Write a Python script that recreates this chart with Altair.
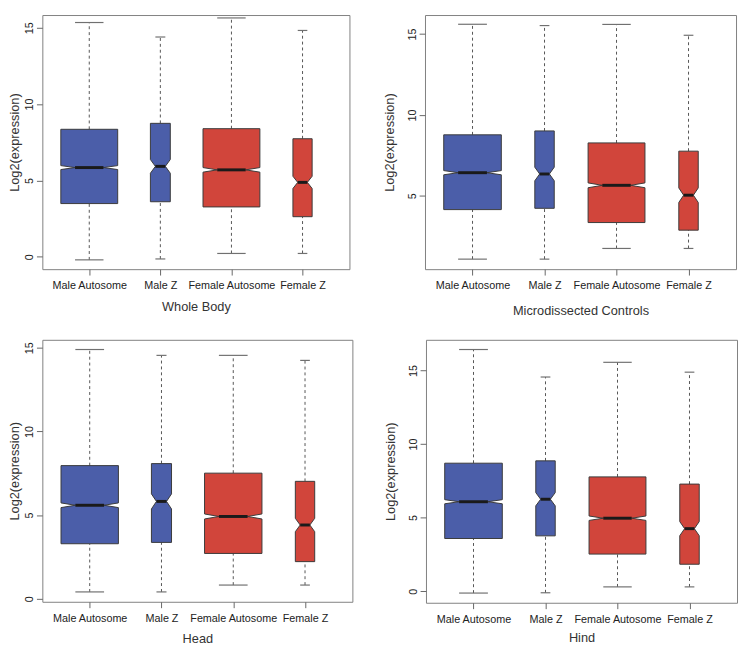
import json
import altair as alt
import pandas as pd

CATEGORIES = ["Male Autosome", "Male Z", "Female Autosome", "Female Z"]
TISSUES = ["Whole Body", "Microdissected Controls", "Head", "Hind"]
BOX_COLORS = ["#4b5ea9", "#4b5ea9", "#d1453b", "#d1453b"]
Y_TICKS = [0, 5, 10, 15]

# Box statistics (order = CATEGORIES)
WB_MAX = [15.35, 14.40, 15.65, 14.83]
WB_Q3 = [8.35, 8.74, 8.39, 7.73]
WB_MED = [5.84, 5.92, 5.69, 4.87]
WB_Q1 = [3.48, 3.60, 3.26, 2.62]
WB_MIN = [-0.21, -0.15, 0.21, 0.21]
WB_NOTCH = [0.13, 0.45, 0.15, 0.40]
WB_WIDTH = [0.80, 0.28, 0.80, 0.27]

MC_MAX = [15.60, 15.52, 15.59, 14.92]
MC_Q3 = [8.77, 9.01, 8.27, 7.76]
MC_MED = [6.43, 6.35, 5.65, 5.04]
MC_Q1 = [4.15, 4.23, 3.35, 2.88]
MC_MIN = [1.09, 1.09, 1.75, 1.75]
MC_NOTCH = [0.13, 0.42, 0.15, 0.45]
MC_WIDTH = [0.80, 0.27, 0.79, 0.27]

HE_MAX = [14.90, 14.55, 14.55, 14.25]
HE_Q3 = [7.96, 8.08, 7.51, 7.02]
HE_MED = [5.59, 5.82, 4.92, 4.41]
HE_Q1 = [3.29, 3.37, 2.71, 2.22]
HE_MIN = [0.41, 0.41, 0.82, 0.82]
HE_NOTCH = [0.14, 0.45, 0.15, 0.40]
HE_WIDTH = [0.80, 0.28, 0.80, 0.27]

HI_MAX = [16.43, 14.56, 15.56, 14.89]
HI_Q3 = [8.70, 8.86, 7.77, 7.28]
HI_MED = [6.08, 6.25, 4.96, 4.25]
HI_Q1 = [3.58, 3.76, 2.52, 1.83]
HI_MIN = [-0.13, -0.11, 0.29, 0.29]
HI_NOTCH = [0.14, 0.45, 0.15, 0.48]
HI_WIDTH = [0.80, 0.27, 0.79, 0.27]

STATS = [
    (WB_MAX, WB_Q3, WB_MED, WB_Q1, WB_MIN, WB_NOTCH, WB_WIDTH),
    (MC_MAX, MC_Q3, MC_MED, MC_Q1, MC_MIN, MC_NOTCH, MC_WIDTH),
    (HE_MAX, HE_Q3, HE_MED, HE_Q1, HE_MIN, HE_NOTCH, HE_WIDTH),
    (HI_MAX, HI_Q3, HI_MED, HI_Q1, HI_MIN, HI_NOTCH, HI_WIDTH),
]

# display settings per panel
Y_DOMAINS = [[-0.82, 15.84], [0.47, 16.17], [-0.18, 15.48], [-0.79, 17.09]]
X_DOMAIN = [0.34, 4.66]
SIZES = [(313, 259), (317, 259), (316, 267), (317, 268)]
X_TITLE_PAD = [10, 14, 9, 7]
Y_TITLE_PAD = [2, 10, 2, 10]

FONT = "Liberation Sans"
LABEL_EXPR = json.dumps(CATEGORIES) + "[datum.value - 1]"


def panel(i):
    mx, q3, med, q1, mn, notch, width = STATS[i]
    summary, outline = [], []
    for k, cat in enumerate(CATEGORIES):
        c = k + 1
        hw = width[k] / 2
        summary.append(dict(cat=cat, c=c, max=mx[k], q3=q3[k], med=med[k], q1=q1[k], min=mn[k],
                            capl=c - hw / 2, capr=c + hw / 2, nl=c - hw / 2, nr=c + hw / 2))
        pts = [(q1[k], hw), (med[k] - notch[k], hw), (med[k], hw / 2),
               (med[k] + notch[k], hw), (q3[k], hw)]
        for (yv, h) in pts:
            outline.append(dict(cat=cat, y=yv, xl=c - h, xr=c + h, fill=BOX_COLORS[k]))
    sdf = pd.DataFrame(summary)
    odf = pd.DataFrame(outline)

    xscale = alt.Scale(domain=X_DOMAIN, nice=False, zero=False)
    yscale = alt.Scale(domain=Y_DOMAINS[i], nice=False, zero=False)
    xaxis = alt.Axis(values=[1, 2, 3, 4], labelExpr=LABEL_EXPR, title=TISSUES[i],
                     titlePadding=X_TITLE_PAD[i], grid=False, domain=False,
                     labelFlush=False, labelOverlap=False)
    yaxis = alt.Axis(values=Y_TICKS, title="Log2(expression)", titlePadding=Y_TITLE_PAD[i],
                     grid=False, domain=False, labelAngle=270, labelAlign="center",
                     labelBaseline="bottom", labelPadding=2)

    def X(f, **kw):
        return alt.X(f + ":Q", scale=xscale, axis=xaxis, title=TISSUES[i], **kw)

    def Y(f):
        return alt.Y(f + ":Q", scale=yscale, axis=yaxis, title="Log2(expression)")

    base = alt.Chart(sdf)
    upper = base.mark_rule(color="#555555", strokeDash=[3, 3], strokeWidth=1).encode(
        x=X("c"), y=Y("q3"), y2="max:Q")
    lower = base.mark_rule(color="#555555", strokeDash=[3, 3], strokeWidth=1).encode(
        x=X("c"), y=Y("min"), y2="q1:Q")
    cap_hi = base.mark_rule(color="#707070", strokeWidth=1.2).encode(
        x=X("capl"), x2="capr:Q", y=Y("max"))
    cap_lo = base.mark_rule(color="#707070", strokeWidth=1.2).encode(
        x=X("capl"), x2="capr:Q", y=Y("min"))
    box = alt.Chart(odf).mark_area(orient="horizontal", stroke="#3a3a3a", strokeWidth=1,
                                   opacity=1).encode(
        y=Y("y"), x=X("xl", stack=False), x2="xr:Q",
        color=alt.Color("fill:N", scale=None), detail="cat:N")
    median = base.mark_rule(color="#1a1a1a", strokeWidth=3).encode(
        x=X("nl"), x2="nr:Q", y=Y("med"))
    w, h = SIZES[i]
    return alt.layer(upper, lower, cap_hi, cap_lo, box, median).properties(width=w, height=h)


row1 = alt.hconcat(panel(0), panel(1), spacing=33)
row2 = alt.hconcat(panel(2), panel(3), spacing=31)
chart = alt.vconcat(row1, row2, spacing=21).properties(
    padding={"left": 0, "top": 0, "right": 0, "bottom": 0}
).configure_view(stroke="#808080", strokeWidth=1).configure_axis(
    labelFont=FONT, titleFont=FONT, labelFontSize=11, titleFontSize=13,
    labelColor="#222222", titleColor="#333333", titleFontWeight="normal",
    tickColor="#666666", tickSize=6, labelPadding=5
)

chart.save("out.html", embed_options={"renderer": "svg", "actions": False})
